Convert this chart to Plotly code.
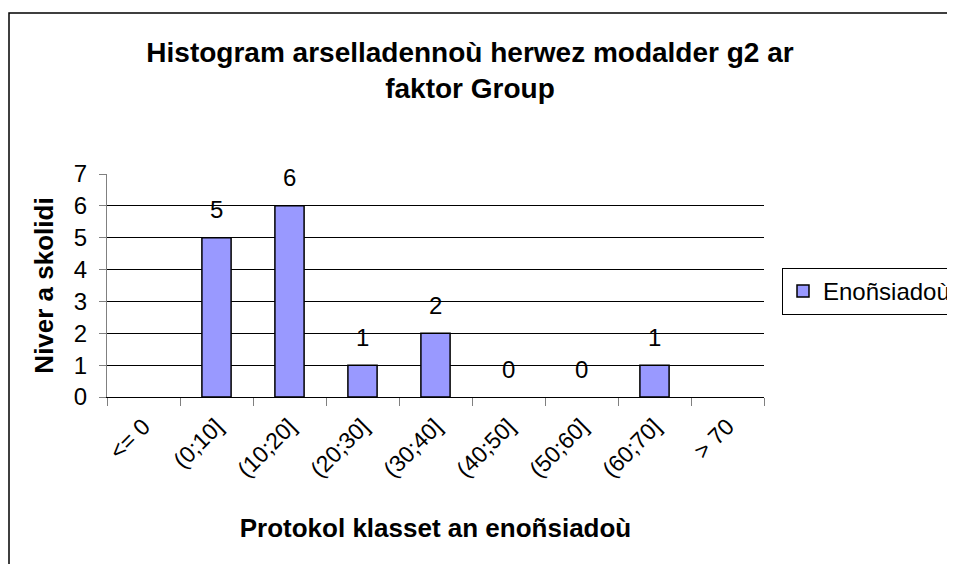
import plotly.graph_objects as go

categories = ["<= 0", "(0;10]", "(10;20]", "(20;30]", "(30;40]", "(40;50]", "(50;60]", "(60;70]", "> 70"]
counts = [None, 5, 6, 1, 2, 0, 0, 1, None]
series_name = "Enoñsiadoù"
y_ticks = [0, 1, 2, 3, 4, 5, 6, 7]

title_text = "Histogram arselladennoù herwez modalder g2 ar<br>faktor Group"
x_title = "Protokol klasset an enoñsiadoù"
y_title = "Niver a skolidi"

FONT = "Arial, 'Liberation Sans', sans-serif"
OFF = 8  # page body margin
W, H = 955 - OFF, 564 - OFF
L, R, T, B = 107 - OFF, 764 - OFF, 174 - OFF, 397 - OFF

# no outline on zero-height bars (Excel draws nothing there)
outline_widths = [0 if v == 0 else 1.5 for v in counts]

fig = go.Figure()
fig.add_trace(go.Bar(
    x=categories, y=counts, name=series_name,
    marker=dict(color="#9999FF", line=dict(color="#000000", width=outline_widths)),
    showlegend=True,
))

for c, v in zip(categories, counts):
    if v is None:
        continue
    fig.add_annotation(x=c, y=v, text=str(v), showarrow=False, yshift=28,
                       font=dict(family=FONT, size=24, color="#000"))

# chart border (Excel chart area frame)
fig.add_shape(type="rect", xref="paper", yref="paper",
              x0=(9 - OFF - L) / (R - L), x1=(W + 30 - L) / (R - L),
              y0=(B - (H + 30)) / (B - T), y1=(B - (13 - OFF)) / (B - T),
              line=dict(color="#000000", width=1.5), fillcolor="rgba(0,0,0,0)", layer="below")

fig.update_layout(
    width=W, height=H,
    margin=dict(l=L, r=W - R, t=T, b=H - B, autoexpand=False),
    paper_bgcolor="white", plot_bgcolor="white",
    bargap=0.6,
    font=dict(family=FONT, color="#000"),
    title=dict(text=title_text, xref="container", yref="container",
               x=(470 - OFF) / W, y=1 - (62 - OFF) / H, xanchor="center", yanchor="middle",
               font=dict(family=FONT, size=28, weight="bold", color="#000"),
               ),
    legend=dict(x=(782 - OFF - L) / (R - L), y=(B - (268 - OFF)) / (B - T), xanchor="left", yanchor="top",
                bordercolor="#000", borderwidth=1, bgcolor="white",
                font=dict(family=FONT, size=24, color="#000"),
                itemwidth=30),
    xaxis=dict(
        type="category", categoryorder="array", categoryarray=categories,
        tickson="boundaries", ticks="outside", ticklen=8, tickcolor="#808080",
        tickangle=-45, tickfont=dict(family=FONT, size=23, color="#000"),
        ticklabelstandoff=6,
        showline=True, linecolor="#000", linewidth=1,
        showgrid=False,
        title=dict(text=x_title, font=dict(family=FONT, size=26, weight="bold", color="#000"),
                   standoff=37),
        range=[-0.5, len(categories) - 0.5],
    ),
    yaxis=dict(
        range=[0, 7], tickvals=y_ticks, ticks="outside", ticklen=7, tickcolor="#808080",
        tickfont=dict(family=FONT, size=24, color="#000"),
        ticklabelstandoff=7,
        showline=True, linecolor="#808080", linewidth=1,
        showgrid=True, gridcolor="#000", gridwidth=1,
        zeroline=False,
        title=dict(text=y_title, font=dict(family=FONT, size=26, weight="bold", color="#000"),
                   standoff=12),
    ),
)

fig.write_html("out.html")
